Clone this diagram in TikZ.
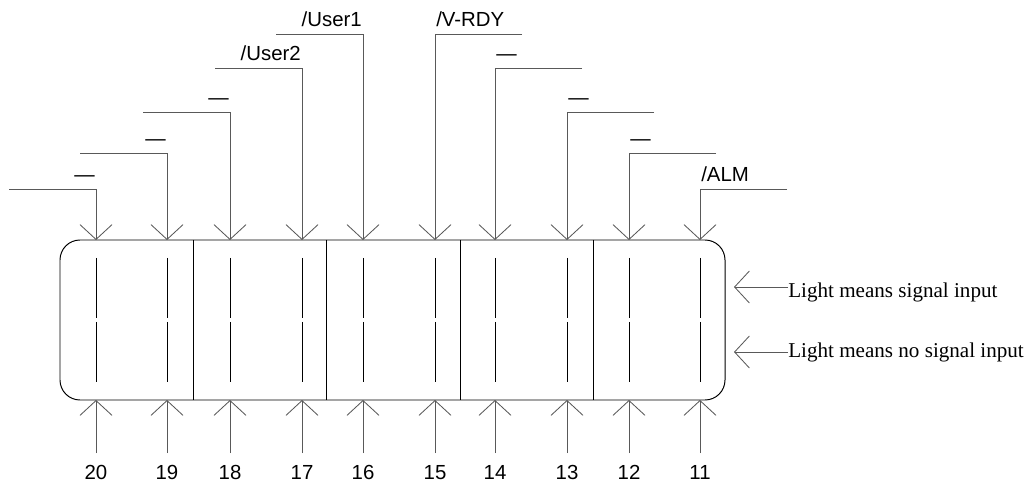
\documentclass[tikz,border=0pt]{standalone}
\usepackage{fontspec}
\setmainfont{Liberation Serif}
\setsansfont{Liberation Sans}
\usetikzlibrary{arrows.meta}

\begin{document}
\begin{tikzpicture}[x=0.025cm,y=-0.025cm]
	\tikzset{pin/.style={draw=black!65,line width=0.6pt,-{Straight Barb[length=0.37cm,width=0.8cm,line width=0.6pt]}},
		seg/.style={draw=black,line width=0.6pt},
		lbl/.style={font=\sffamily\fontsize{14.5}{16}\selectfont,inner sep=0pt},
		note/.style={font=\fontsize{15}{17}\selectfont,inner sep=0pt,anchor=west}}

	\useasboundingbox (0,0) rectangle (1031,484);

	% panel
	\draw[line width=0.7pt,rounded corners=0.5cm] (60,240) rectangle (725,400);
	\foreach \dx in {193,326,460,593}
		\draw[line width=0.7pt] (\dx,240) -- (\dx,400);

	% pins 20..11
	\foreach \n/\px in {20/96,19/167,18/230,17/302,16/363,15/435,14/495,13/567,12/629,11/700} {
		\coordinate (top\n) at (\px,240);
		\coordinate (bot\n) at (\px,400);
		\coordinate (tail\n) at (\px,453);
		\node[lbl,anchor=base] (num\n) at (\px,479) {\n};
		\draw[seg] (\px,258) -- (\px,318) (\px,322) -- (\px,382);
		\draw[pin] (tail\n) -- (bot\n);
	}

	% inputs, left half
	\foreach \n/\py/\txt in {20/189/\textemdash,19/153/\textemdash,18/112/\textemdash,17/68/{/User2},16/34/{/User1}} {
		\path (top\n) ++(0,\py-240) coordinate (bend\n) ++(-87,0) coordinate (end\n);
		\draw[pin] (end\n) -- (bend\n) -- (top\n);
		\node[lbl,anchor=base east] (sig\n) at ([shift={(-1,-7)}]bend\n) {\txt};
	}

	% inputs, right half
	\foreach \n/\py/\txt in {15/34/{/V-RDY},14/68/\textemdash,13/112/\textemdash,12/153/\textemdash,11/189/{/ALM}} {
		\path (top\n) ++(0,\py-240) coordinate (bend\n) ++(87,0) coordinate (end\n);
		\draw[pin] (end\n) -- (bend\n) -- (top\n);
		\node[lbl,anchor=base west] (sig\n) at ([shift={(1,-7)}]bend\n) {\txt};
	}

	% legend
	\coordinate (tipon) at (734,287);
	\coordinate (tipoff) at (734,352);
	\node[note] (lighton) at (788,292) {Light means signal input};
	\node[note] (lightoff) at (788,352) {Light means no signal input};
	\draw[pin] (lighton.west |- tipon) -- (tipon);
	\draw[pin] (lightoff.west |- tipoff) -- (tipoff);

\end{tikzpicture}
\end{document}
